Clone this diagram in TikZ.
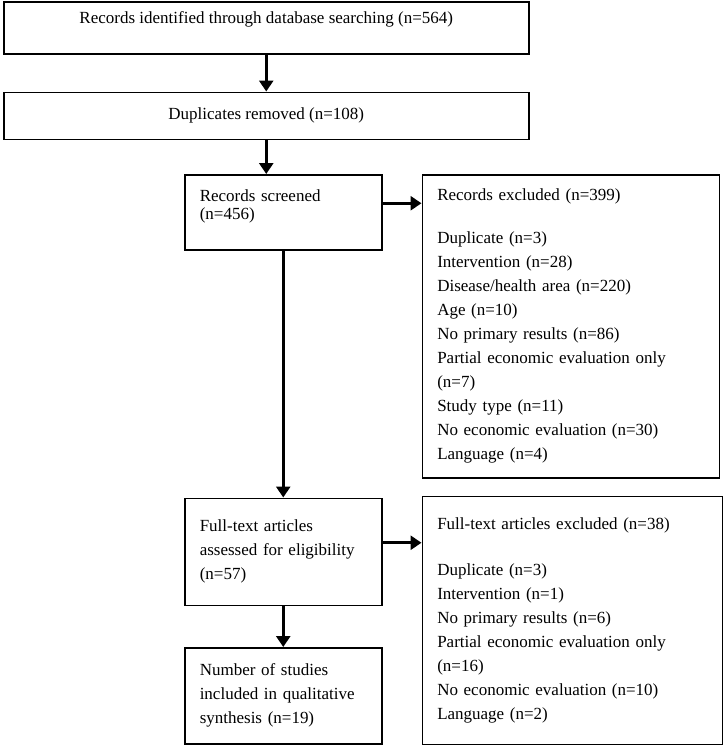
\documentclass[tikz,border=0pt]{standalone}
\usepackage{fontspec}
\setmainfont{Liberation Serif}
\usetikzlibrary{arrows.meta,positioning}
\tikzset{
	% standard arrow tip
	>={Triangle[length=11pt,width=14pt]},
	% boxes
	wide/.style={
		rectangle,
		draw=black, line width=1.5pt,
		minimum width=525pt,
		align=center,
		font=\fontsize{17}{24}\selectfont},
	punkt/.style={
		rectangle,
		draw=black, line width=1.5pt,
		inner xsep=15pt,
		align=left,
		font=\fontsize{17}{24}\selectfont},
	% arrows
	pil/.style={
		->,
		line width=3pt}
}
\begin{document}
\begin{tikzpicture}[x=1pt,y=-1pt]
	\useasboundingbox (0,0) rectangle (723,745);
	
	\node[wide, minimum height=52pt, anchor=north west] (ident) at (3,1)
		{Records identified through database searching (n=564)\\[-10pt] \strut};
	\node[wide, minimum height=47pt, below=37pt of ident] (dup) {Duplicates removed (n=108)};
	
	\node[punkt, text width=167pt, minimum height=75pt, anchor=north west] (screen) at (184,174)
		{Records screened\\[-6pt] (n=456)\\[-16pt] \strut};
	\node[punkt, text width=267pt, minimum height=303pt, right=39pt of screen.north east, anchor=north west] (excl1)
		{Records excluded (n=399)\\[19pt]
		Duplicate (n=3)\\ Intervention (n=28)\\ Disease/health area (n=220)\\ Age (n=10)\\
		No primary results (n=86)\\ Partial economic evaluation only\\ (n=7)\\
		Study type (n=11)\\ No economic evaluation (n=30)\\ Language (n=4)};
	
	\node[punkt, text width=167pt, minimum height=107pt, below=247pt of screen] (full)
		{Full-text articles\\ assessed for eligibility\\ (n=57)};
	\node[punkt, text width=270pt, minimum height=248pt, right=39pt of full.north east, anchor=north west, yshift=2pt] (excl2)
		{Full-text articles excluded (n=38)\\[22pt]
		Duplicate (n=3)\\ Intervention (n=1)\\ No primary results (n=6)\\
		Partial economic evaluation only\\ (n=16)\\ No economic evaluation (n=10)\\ Language (n=2)};
	
	\node[punkt, text width=167pt, minimum height=96pt, below=41pt of full] (incl)
		{Number of studies\\ included in qualitative\\ synthesis (n=19)};
	
	\draw[pil] (ident) -- (dup);
	\draw[pil] (dup.south) -- (dup.south |- screen.north);
	\draw[pil] (screen) -- (full);
	\draw[pil] (full) -- (incl);
	\draw[pil] ([yshift=9pt]screen.east) -- ([yshift=9pt]screen.east -| excl1.west);
	\draw[pil] ([yshift=9pt]full.east) -- ([yshift=9pt]full.east -| excl2.west);
	
\end{tikzpicture}
\end{document}
